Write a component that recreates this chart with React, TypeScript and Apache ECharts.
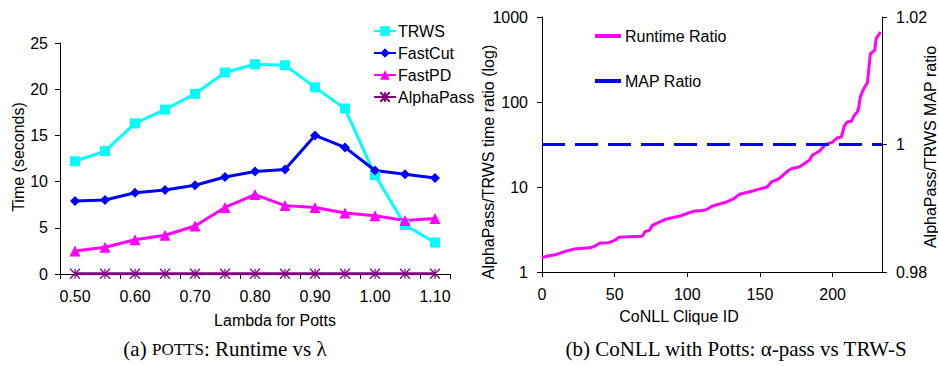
import React, { useEffect, useRef } from "react";
import * as echarts from "echarts";

const lambdas = ["0.50", "0.55", "0.60", "0.65", "0.70", "0.75", "0.80", "0.85", "0.90", "0.95", "1.00", "1.05", "1.10"];
const trws = [12.2, 13.3, 16.3, 17.8, 19.5, 21.8, 22.7, 22.6, 20.2, 17.9, 10.7, 5.3, 3.4];
const fastCut = [7.9, 8.0, 8.8, 9.1, 9.6, 10.5, 11.1, 11.3, 15.0, 13.7, 11.2, 10.8, 10.4];
const fastPD = [2.5, 2.9, 3.7, 4.2, 5.2, 7.2, 8.6, 7.4, 7.2, 6.6, 6.3, 5.8, 6.0];
const alphaPass = [0.03, 0.03, 0.03, 0.03, 0.03, 0.03, 0.03, 0.03, 0.03, 0.03, 0.03, 0.03, 0.03];

const cliqueIds = [0, 3, 10, 17, 22, 33, 36, 40, 46, 50, 53, 60, 69, 71, 74, 76, 80, 85, 95, 104, 110, 113, 117, 127, 132, 136, 145, 150, 155, 158, 163, 169, 172, 177, 184, 186, 191, 195, 200, 203, 206, 208, 210, 213, 215, 217, 218, 219, 221, 224, 226, 229, 230, 233];
const runtimeRatio = [1.47, 1.53, 1.61, 1.77, 1.86, 1.93, 2.0, 2.19, 2.21, 2.35, 2.56, 2.6, 2.63, 3.0, 3.09, 3.54, 3.8, 4.17, 4.56, 5.17, 5.3, 5.41, 5.93, 6.66, 7.3, 8.2, 8.97, 9.5, 10.0, 11.5, 12.5, 15.4, 16.5, 17.2, 20.6, 23.6, 26.5, 31.5, 33.8, 37.7, 38.7, 51.7, 58.2, 59.5, 69.7, 76.2, 85.8, 114, 138, 170, 370, 405, 556, 666];
const mapRatioX = [0, 234];
const mapRatio = [1, 1];

const FONT = "'Liberation Sans', Arial, sans-serif";
const SERIF = "'Liberation Serif', 'Times New Roman', serif";
const FS = 16;

export default function App() {
  const ref = useRef<HTMLDivElement>(null);
  useEffect(() => {
    document.body.style.margin = "0";
    const chart = echarts.init(ref.current!, null, { renderer: "svg" });
    const axisLine = { show: true, lineStyle: { color: "#000", width: 1 } };
    const axisTick = { show: true, length: 5, lineStyle: { color: "#000" } };
    const label = { color: "#000", fontSize: FS, fontFamily: FONT };
    const asterisk = "path://M0,0L10,10M10,0L0,10M5,0L5,10";
    chart.setOption({
      animation: false,
      backgroundColor: "#fff",
      textStyle: { fontFamily: FONT },
      grid: [
        { left: 60, top: 43, width: 390, height: 231 },
        { left: 542, top: 17, width: 340, height: 255 },
      ],
      legend: [
        {
          orient: "vertical",
          left: 373,
          top: 23,
          padding: 0,
          itemWidth: 22,
          itemHeight: 12,
          itemGap: 6,
          textStyle: { color: "#000", fontSize: FS, fontFamily: FONT, padding: [0, 0, 0, -3] },
          data: ["TRWS", "FastCut", "FastPD", "AlphaPass"],
        },
        {
          orient: "vertical",
          left: 595,
          top: 28,
          padding: 0,
          itemWidth: 26,
          itemHeight: 4,
          itemGap: 29,
          textStyle: { color: "#000", fontSize: FS, fontFamily: FONT, padding: [0, 0, 0, -1] },
          data: [
            { name: "Runtime Ratio", icon: "rect" },
            { name: "MAP Ratio", icon: "rect" },
          ],
        },
      ],
      xAxis: [
        {
          type: "category",
          gridIndex: 0,
          data: lambdas,
          boundaryGap: true,
          axisLine,
          axisTick: { ...axisTick, interval: 1 },
          axisLabel: { ...label, interval: 1, margin: 14 },
          splitLine: { show: false },
        },
        {
          type: "value",
          gridIndex: 1,
          min: 0,
          max: 234,
          interval: 50,
          axisLine,
          axisTick,
          axisLabel: { ...label, margin: 14, showMaxLabel: false },
          splitLine: { show: false },
        },
      ],
      yAxis: [
        {
          type: "value",
          gridIndex: 0,
          min: 0,
          max: 25,
          interval: 5,
          axisLine,
          axisTick,
          axisLabel: { ...label, margin: 12 },
          splitLine: { show: false },
        },
        {
          type: "log",
          gridIndex: 1,
          logBase: 10,
          min: 1,
          max: 1000,
          position: "left",
          axisLine,
          axisTick,
          axisLabel: { ...label, margin: 14, formatter: (v: number) => String(Math.round(v)) },
          splitLine: { show: false },
          minorTick: { show: false },
        },
        {
          type: "value",
          gridIndex: 1,
          min: 0.98,
          max: 1.02,
          interval: 0.02,
          position: "right",
          axisLine,
          axisTick,
          axisLabel: { ...label, margin: 14 },
          splitLine: { show: false },
        },
      ],
      series: [
        {
          name: "TRWS",
          type: "line",
          xAxisIndex: 0,
          yAxisIndex: 0,
          data: trws,
          symbol: "rect",
          symbolSize: 10,
          lineStyle: { color: "#00ffff", width: 3 },
          itemStyle: { color: "#00ffff" },
        },
        {
          name: "FastCut",
          type: "line",
          xAxisIndex: 0,
          yAxisIndex: 0,
          data: fastCut,
          symbol: "diamond",
          symbolSize: 10,
          lineStyle: { color: "#0000ff", width: 3 },
          itemStyle: { color: "#0000ff" },
        },
        {
          name: "FastPD",
          type: "line",
          xAxisIndex: 0,
          yAxisIndex: 0,
          data: fastPD,
          symbol: "triangle",
          symbolSize: 11,
          lineStyle: { color: "#ff00ff", width: 3 },
          itemStyle: { color: "#ff00ff" },
        },
        {
          name: "AlphaPass",
          type: "line",
          xAxisIndex: 0,
          yAxisIndex: 0,
          data: alphaPass,
          symbol: asterisk,
          symbolSize: 10,
          lineStyle: { color: "#800080", width: 3 },
          itemStyle: { color: "#800080", borderColor: "#800080", borderWidth: 1.2 },
        },
        {
          name: "Runtime Ratio",
          type: "line",
          xAxisIndex: 1,
          yAxisIndex: 1,
          data: cliqueIds.map((id, i) => [id, runtimeRatio[i]]),
          symbol: "none",
          lineStyle: { color: "#ff00ff", width: 3 },
          itemStyle: { color: "#ff00ff" },
        },
        {
          name: "MAP Ratio",
          type: "line",
          xAxisIndex: 1,
          yAxisIndex: 2,
          data: mapRatioX.map((x, i) => [x, mapRatio[i]]),
          symbol: "none",
          lineStyle: { color: "#0000ff", width: 3, type: [23, 10] },
          itemStyle: { color: "#0000ff" },
        },
      ],
      graphic: [
        {
          type: "text",
          x: 18,
          y: 157,
          rotation: Math.PI / 2,
          style: { text: "Time (seconds)", fontSize: FS, fontFamily: FONT, fill: "#000", align: "center", verticalAlign: "middle" },
        },
        {
          type: "text",
          x: 275,
          y: 320,
          style: { text: "Lambda for Potts", fontSize: FS, fontFamily: FONT, fill: "#000", align: "center", verticalAlign: "middle" },
        },
        {
          type: "text",
          x: 488,
          y: 162,
          rotation: Math.PI / 2,
          style: { text: "AlphaPass/TRWS time ratio (log)", fontSize: FS, fontFamily: FONT, fill: "#000", align: "center", verticalAlign: "middle" },
        },
        {
          type: "text",
          x: 930,
          y: 147,
          rotation: Math.PI / 2,
          style: { text: "AlphaPass/TRWS MAP ratio", fontSize: FS, fontFamily: FONT, fill: "#000", align: "center", verticalAlign: "middle" },
        },
        {
          type: "text",
          x: 679,
          y: 316,
          style: { text: "CoNLL Clique ID", fontSize: FS, fontFamily: FONT, fill: "#000", align: "center", verticalAlign: "middle" },
        },
        {
          type: "text",
          x: 225,
          y: 349,
          style: {
            text: "{a|(a) }{s|POTTS}{a|: Runtime vs λ}",
            align: "center",
            verticalAlign: "middle",
            rich: {
              a: { fontSize: 21, fontFamily: SERIF, fill: "#000" },
              s: { fontSize: 17, fontFamily: SERIF, fill: "#000" },
            },
          },
        },
        {
          type: "text",
          x: 736,
          y: 349,
          style: {
            text: "(b) CoNLL with Potts: α-pass vs TRW-S",
            fontSize: 21,
            fontFamily: SERIF,
            fill: "#000",
            align: "center",
            verticalAlign: "middle",
          },
        },
      ],
    });
    return () => chart.dispose();
  }, []);
  return <div ref={ref} style={{ position: "fixed", left: 0, top: 0, width: 938, height: 366 }} />;
}
